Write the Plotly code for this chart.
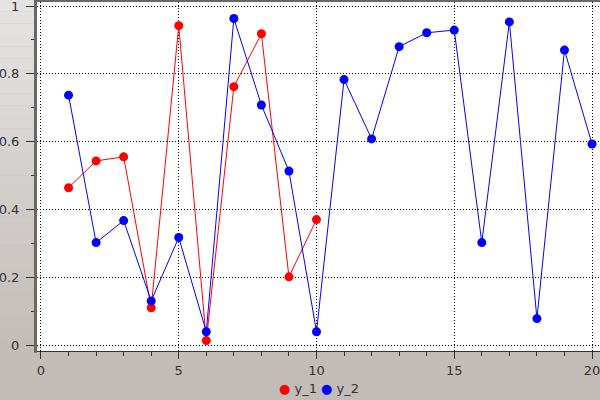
import plotly.graph_objects as go

# series values
x_1 = [1, 2, 3, 4, 5, 6, 7, 8, 9, 10]
y_1 = [0.464, 0.543, 0.555, 0.110, 0.942, 0.013, 0.762, 0.918, 0.201, 0.370]

x_2 = list(range(1, 21))
y_2 = [0.737, 0.302, 0.367, 0.130, 0.317, 0.039, 0.963, 0.708, 0.513, 0.039,
       0.783, 0.608, 0.880, 0.921, 0.929, 0.302, 0.953, 0.078, 0.870, 0.593]

series = [("y_1", x_1, y_1, "#ff0000"), ("y_2", x_2, y_2, "#0000ff")]

W, H = 600, 400
L, R, T, B = 37, 0, 2, 49
font = dict(family="DejaVu Sans", size=13, color="#333333")
bg = "#c3bdb9"

fig = go.Figure()
for name, xs, ys, col in series:
    fig.add_scatter(x=xs, y=ys, mode="lines+markers", name=name, showlegend=False,
                    line=dict(color=col, width=1),
                    marker=dict(color=col, size=9))

# lighter gradient strip on the left (widget style)
pw = W - L - R
ph = H - T - B
n = 30
top_rgb = (0xe6, 0xe4, 0xe2)
bot_rgb = (0xc3, 0xbd, 0xb9)
shapes = []
for i in range(n):
    t = i / (n - 1)
    c = tuple(int(top_rgb[k] + (bot_rgb[k] - top_rgb[k]) * t) for k in range(3))
    shapes.append(dict(type="rect", xref="paper", yref="paper", layer="below",
                       x0=-L / pw, x1=-3 / pw,
                       y0=1 + T / ph - (i + 1) * (ph + T) / n / ph,
                       y1=1 + T / ph - i * (ph + T) / n / ph,
                       line=dict(width=0), fillcolor="rgb(%d,%d,%d)" % c))
# frame lines top and left
shapes.append(dict(type="line", xref="paper", yref="paper", x0=-1 / pw, x1=1,
                   y0=1 + 1 / ph, y1=1 + 1 / ph, line=dict(color="#6a6866", width=2)))
shapes.append(dict(type="line", xref="paper", yref="paper", x0=-1.5 / pw, x1=-1.5 / pw,
                   y0=-0.005, y1=1 + 2 / ph, line=dict(color="#6a6866", width=3)))

# legend drawn as text: coloured dot + series name
legend_text = " ".join('<span style="color:%s">●</span> %s' % (col, name)
                       for name, xs, ys, col in series)
annotations = [dict(text=legend_text, xref="paper", yref="paper", x=0.5, y=-37 / ph,
                    xanchor="center", yanchor="middle", showarrow=False,
                    font=dict(family="DejaVu Sans", size=13, color="#333333"))]

grid = dict(showgrid=True, gridcolor="black", griddash="1px,2px", gridwidth=1,
            zeroline=False, showline=True, linecolor="#333333", linewidth=1,
            ticks="outside", tickcolor="#333333", automargin=False, tickfont=font,
            ticklabeloverflow="allow")

fig.update_layout(
    width=W, height=H,
    margin=dict(l=L, r=R, t=T, b=B),
    paper_bgcolor=bg, plot_bgcolor="white",
    font=font,
    shapes=shapes,
    annotations=annotations,
    showlegend=False,
    xaxis=dict(range=[-0.145, 20.29], tickvals=[0, 5, 10, 15, 20], ticklen=7,
               minor=dict(dtick=1, ticks="outside", ticklen=4, tickcolor="#333333",
                          showgrid=False),
               **grid),
    yaxis=dict(range=[-0.0177, 1.0118], tickvals=[0, 0.2, 0.4, 0.6, 0.8, 1],
               ticktext=["0", "0.2", "0.4", "0.6", "0.8", "1"], ticklen=10,
               ticklabelstandoff=4,
               minor=dict(dtick=0.1, ticks="outside", ticklen=5, tickcolor="#333333",
                          showgrid=False),
               **grid),
)

# page body has a default 8px margin; drop it so the figure sits at the corner
fig.write_html("out.html", config=dict(displayModeBar=False),
               post_script="document.body.style.margin='0';")
